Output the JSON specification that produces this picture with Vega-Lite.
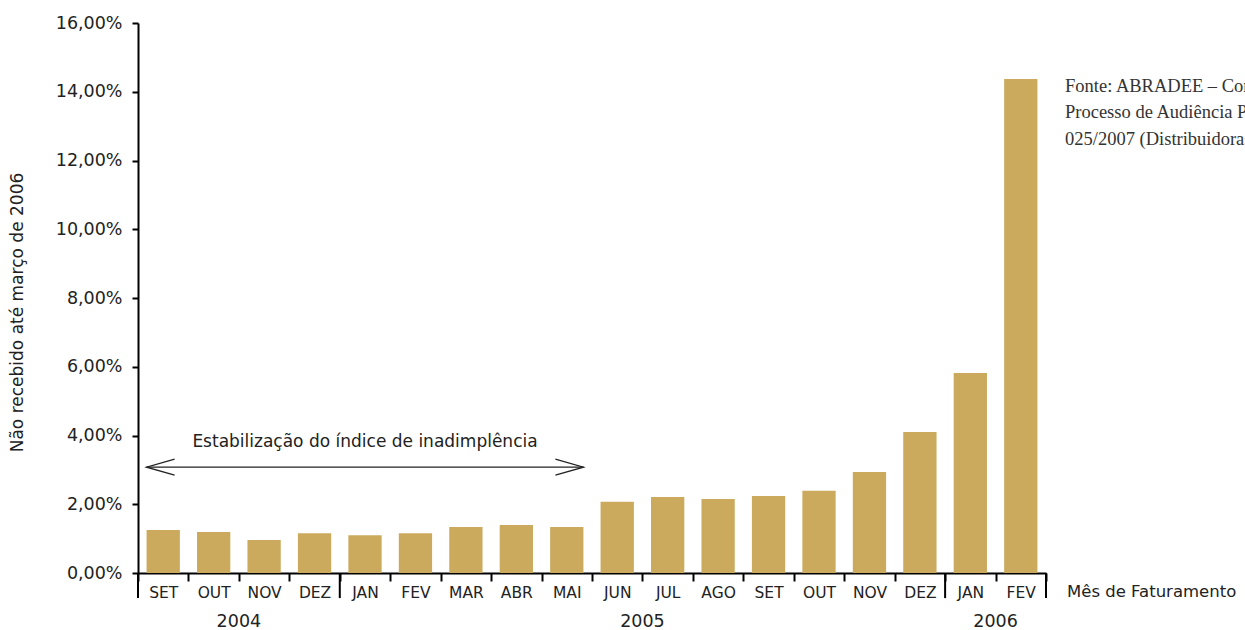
{
  "$schema": "https://vega.github.io/schema/vega-lite/v6.json",
  "width": 908,
  "height": 550,
  "autosize": {"type": "none"},
  "padding": {"left": 138, "top": 23, "right": 199, "bottom": 57},
  "background": "white",
  "config": {"view": {"stroke": null}, "font": "DejaVu Sans"},
  "datasets": {
    "meses": [
      {"key": "2004-SET", "mes": "SET", "ano": "2004", "valor": 1.25},
      {"key": "2004-OUT", "mes": "OUT", "ano": "2004", "valor": 1.19},
      {"key": "2004-NOV", "mes": "NOV", "ano": "2004", "valor": 0.96},
      {"key": "2004-DEZ", "mes": "DEZ", "ano": "2004", "valor": 1.16},
      {"key": "2005-JAN", "mes": "JAN", "ano": "2005", "valor": 1.10},
      {"key": "2005-FEV", "mes": "FEV", "ano": "2005", "valor": 1.16},
      {"key": "2005-MAR", "mes": "MAR", "ano": "2005", "valor": 1.34},
      {"key": "2005-ABR", "mes": "ABR", "ano": "2005", "valor": 1.40},
      {"key": "2005-MAI", "mes": "MAI", "ano": "2005", "valor": 1.34},
      {"key": "2005-JUN", "mes": "JUN", "ano": "2005", "valor": 2.07},
      {"key": "2005-JUL", "mes": "JUL", "ano": "2005", "valor": 2.21},
      {"key": "2005-AGO", "mes": "AGO", "ano": "2005", "valor": 2.15},
      {"key": "2005-SET", "mes": "SET", "ano": "2005", "valor": 2.24},
      {"key": "2005-OUT", "mes": "OUT", "ano": "2005", "valor": 2.39},
      {"key": "2005-NOV", "mes": "NOV", "ano": "2005", "valor": 2.94},
      {"key": "2005-DEZ", "mes": "DEZ", "ano": "2005", "valor": 4.10},
      {"key": "2006-JAN", "mes": "JAN", "ano": "2006", "valor": 5.82},
      {"key": "2006-FEV", "mes": "FEV", "ano": "2006", "valor": 14.37}
    ],
    "limites": [
      {"key": "2004-SET"},
      {"key": "2005-JAN"},
      {"key": "2006-JAN"}
    ],
    "fim": [{"key": "2006-FEV", "rotulo": "Mês de Faturamento", "fonte": "Fonte: ABRADEE – Contribuição ao\nProcesso de Audiência Pública\n025/2007 (Distribuidoras)"}],
    "anos": [
      {"key": "2004-NOV", "ano": "2004"},
      {"key": "2005-JUL", "ano": "2005"},
      {"key": "2006-FEV", "ano": "2006"}
    ],
    "seta": [{"inicio": "2004-SET", "fim": "2005-MAI", "meio": "2005-JAN", "texto": "Estabilização do índice de inadimplência"}]
  },
  "layer": [
    {
      "data": {"name": "meses"},
      "mark": {"type": "bar", "color": "#CBAA5E", "width": {"band": 0.66}},
      "encoding": {
        "x": {
          "field": "key", "type": "nominal",
          "scale": {"domain": ["2004-SET","2004-OUT","2004-NOV","2004-DEZ","2005-JAN","2005-FEV","2005-MAR","2005-ABR","2005-MAI","2005-JUN","2005-JUL","2005-AGO","2005-SET","2005-OUT","2005-NOV","2005-DEZ","2006-JAN","2006-FEV"], "paddingInner": 0, "paddingOuter": 0},
          "axis": {"title": null, "labelExpr": "split(datum.value, '-')[1]", "labelAngle": 0, "tickBand": "extent", "tickSize": 8, "tickWidth": 2, "tickColor": "#000", "domainColor": "#000", "domainWidth": 2, "labelFont": "DejaVu Sans", "labelFontSize": 15.5, "labelColor": "#222", "labelPadding": 4}
        },
        "y": {
          "field": "valor", "type": "quantitative",
          "scale": {"domain": [0, 16], "nice": false},
          "axis": {"values": [0, 2, 4, 6, 8, 10, 12, 14, 16], "labelExpr": "replace(format(datum.value, '.2f'), '.', ',') + '%'", "grid": false, "tickSize": 6, "tickWidth": 2, "tickColor": "#000", "domainColor": "#000", "domainWidth": 2, "labelFont": "DejaVu Sans", "labelFontSize": 17.5, "labelColor": "#222", "labelPadding": 10, "title": "Não recebido até março de 2006", "titleFont": "DejaVu Sans", "titleFontSize": 17, "titleFontWeight": "normal", "titleColor": "#222", "titleX": -112, "titleY": 289}
        }
      }
    },
    {
      "data": {"name": "limites"},
      "mark": {"type": "rule", "color": "#000", "strokeWidth": 2},
      "encoding": {
        "x": {"field": "key", "type": "nominal", "bandPosition": 0},
        "y": {"datum": 0},
        "y2": {"datum": -0.73}
      }
    },
    {
      "data": {"name": "fim"},
      "mark": {"type": "rule", "color": "#000", "strokeWidth": 2},
      "encoding": {
        "x": {"field": "key", "type": "nominal", "bandPosition": 1},
        "y": {"datum": 0},
        "y2": {"datum": -0.73}
      }
    },
    {
      "data": {"name": "fim"},
      "mark": {"type": "text", "align": "left", "baseline": "middle", "dx": 21, "fontSize": 16.5, "font": "DejaVu Sans", "color": "#222"},
      "encoding": {
        "x": {"field": "key", "type": "nominal", "bandPosition": 1},
        "y": {"datum": -0.55},
        "text": {"field": "rotulo"}
      }
    },
    {
      "data": {"name": "fim"},
      "mark": {"type": "text", "align": "left", "baseline": "middle", "dx": 19, "fontSize": 18.5, "font": "Liberation Serif", "color": "#333", "lineBreak": "\n", "lineHeight": 26.5},
      "encoding": {
        "x": {"field": "key", "type": "nominal", "bandPosition": 1},
        "y": {"datum": 14.17},
        "text": {"field": "fonte"}
      }
    },
    {
      "data": {"name": "anos"},
      "mark": {"type": "text", "align": "center", "baseline": "middle", "fontSize": 17.5, "font": "DejaVu Sans", "color": "#222"},
      "encoding": {
        "x": {"field": "key", "type": "nominal", "bandPosition": 0},
        "y": {"datum": -1.43},
        "text": {"field": "ano"}
      }
    },
    {
      "data": {"name": "seta"},
      "mark": {"type": "rule", "color": "#222", "strokeWidth": 1.3},
      "encoding": {
        "x": {"field": "inicio", "type": "nominal", "bandPosition": 0.17},
        "x2": {"field": "fim", "bandPosition": 0.83},
        "y": {"datum": 3.08}
      }
    },
    {
      "data": {"name": "seta"},
      "mark": {"type": "point", "shape": "M 2 -0.57 L 0 0 L 2 0.57", "filled": false, "size": 784, "color": "#222", "strokeWidth": 1.3, "opacity": 1},
      "encoding": {
        "x": {"field": "inicio", "type": "nominal", "bandPosition": 0.17},
        "y": {"datum": 3.08}
      }
    },
    {
      "data": {"name": "seta"},
      "mark": {"type": "point", "shape": "M -2 -0.57 L 0 0 L -2 0.57", "filled": false, "size": 784, "color": "#222", "strokeWidth": 1.3, "opacity": 1},
      "encoding": {
        "x": {"field": "fim", "type": "nominal", "bandPosition": 0.83},
        "y": {"datum": 3.08}
      }
    },
    {
      "data": {"name": "seta"},
      "mark": {"type": "text", "align": "center", "baseline": "middle", "fontSize": 17, "font": "DejaVu Sans", "color": "#222"},
      "encoding": {
        "x": {"field": "meio", "type": "nominal", "bandPosition": 0.5},
        "y": {"datum": 3.81},
        "text": {"field": "texto"}
      }
    }
  ]
}
